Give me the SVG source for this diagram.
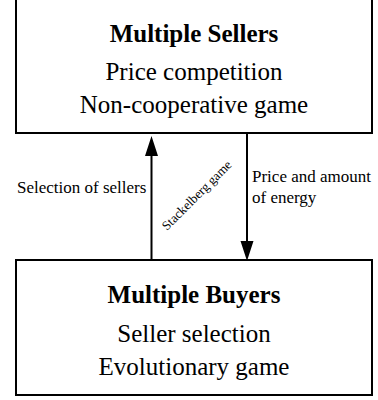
<svg xmlns="http://www.w3.org/2000/svg" width="378" height="400" viewBox="0 0 378 400">
<style>
.box{fill:#fff;stroke:#000;stroke-width:2}
.ln{stroke:#000;stroke-width:2;fill:none}
.hd{fill:#000}
.t{font-family:"Liberation Serif","Times New Roman",serif;fill:#000}
.c{text-anchor:middle;font-size:25px}
.b{font-weight:bold}
.s{font-size:17px}
.xs{font-size:13px}
</style>
<rect width="378" height="400" fill="#fff"/>
<g id="sellers">
<rect class="box" x="16" y="-2" width="356" height="135"/>
<text class="t c b" x="194" y="42">Multiple Sellers</text>
<text class="t c" x="194" y="80">Price competition</text>
<text class="t c" x="194" y="113">Non-cooperative game</text>
</g>
<g id="buyers">
<rect class="box" x="16" y="260" width="356" height="135"/>
<text class="t c b" x="194" y="303">Multiple Buyers</text>
<text class="t c" x="194" y="342">Seller selection</text>
<text class="t c" x="194" y="375">Evolutionary game</text>
</g>
<g id="connectors">
<path class="ln" d="M151.5,260 V150 M247,133 V245"/>
<path class="hd" d="M151.5,136 L145,156 L158,156 Z M247,261 L240.5,241 L253.5,241 Z"/>
<text class="t s" x="17" y="193">Selection of sellers</text>
<text class="t s" x="252" y="182">Price and amount</text>
<text class="t s" x="252" y="203">of energy</text>
<text class="t xs" transform="translate(167,231) rotate(-45)">Stackelberg game</text>
</g>
</svg>
